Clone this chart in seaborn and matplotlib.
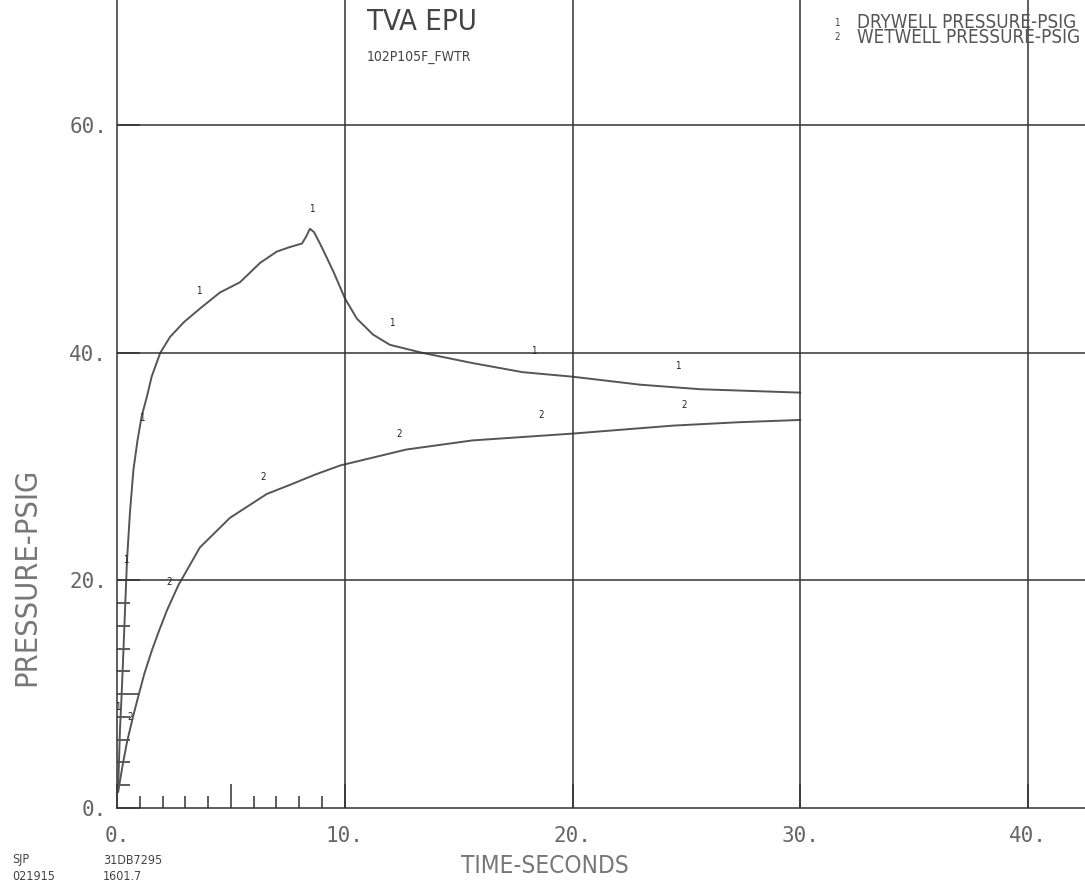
import pandas as pd
import seaborn as sns
import matplotlib.pyplot as plt

# drywell pressure (curve 1)
dw_time = [0.05, 0.13, 0.2, 0.26, 0.35, 0.44, 0.57, 0.72, 0.9, 1.08, 1.32, 1.52, 1.9,
           2.33, 2.94, 3.65, 4.52, 5.4, 6.28, 7.02, 7.6, 8.12, 8.3, 8.47, 8.65, 8.91,
           9.2, 9.53, 10.0, 10.53, 11.24, 11.98, 13.4, 15.6, 17.8, 20.0, 22.96, 25.6, 30.0]
dw_psig = [1.6, 6.9, 9.8, 12.7, 17.3, 21.8, 26.0, 29.7, 32.3, 34.4, 36.2, 37.9, 40.0,
           41.4, 42.7, 43.9, 45.3, 46.2, 47.9, 48.9, 49.3, 49.6, 50.2, 50.9, 50.6, 49.6,
           48.4, 47.0, 44.8, 43.0, 41.6, 40.7, 40.0, 39.1, 38.3, 37.9, 37.2, 36.8, 36.5]

# wetwell pressure (curve 2)
ww_time = [0.05, 0.25, 0.44, 0.7, 0.92, 1.2, 1.54, 1.85, 2.2, 2.7, 3.64, 4.96, 6.58,
           7.6, 8.7, 9.8, 12.7, 15.6, 20.0, 24.4, 27.3, 30.0]
ww_psig = [1.4, 3.8, 5.8, 8.0, 9.7, 11.8, 13.9, 15.6, 17.4, 19.6, 22.9, 25.5, 27.6,
           28.4, 29.3, 30.1, 31.5, 32.3, 32.9, 33.6, 33.9, 34.1]

# curve id symbols written along the curves
dw_sym_t = [0.04, 0.39, 1.1, 3.6, 8.55, 12.06, 18.3, 24.6]
dw_sym_p = [8.9, 21.8, 34.3, 45.4, 52.6, 42.6, 40.2, 38.8]
ww_sym_t = [0.57, 2.3, 6.4, 12.4, 18.6, 24.9]
ww_sym_p = [8.0, 19.9, 29.1, 32.9, 34.5, 35.4]

x_major = [0, 5, 10, 20, 30, 40]
x_labels = ["0.", "", "10.", "20.", "30.", "40."]
x_minor = [1, 2, 3, 4, 6, 7, 8, 9]
y_major = [0, 10, 20, 40, 60]
y_labels = ["0.", "", "20.", "40.", "60."]
y_minor = [2, 4, 6, 8, 12, 14, 16, 18]
x_grid = [10, 20, 30, 40]
y_grid = [20, 40, 60]

legend_items = ["DRYWELL PRESSURE-PSIG", "WETWELL PRESSURE-PSIG"]

sns.set_style("white")
plt.rcParams["font.family"] = ["DejaVu Sans"]
plt.rcParams["font.stretch"] = "condensed"

LINE = "#333333"
CURVE = "#555555"
TXT = "#666666"

fig = plt.figure(figsize=(10.85, 8.9), dpi=100)
ax = fig.add_axes([117 / 1085, 82 / 890, 1 - 117 / 1085, 808 / 890])

dw = pd.DataFrame({"t": dw_time, "p": dw_psig})
ww = pd.DataFrame({"t": ww_time, "p": ww_psig})
sns.lineplot(data=dw, x="t", y="p", ax=ax, color=CURVE, lw=1.4, estimator=None)
sns.lineplot(data=ww, x="t", y="p", ax=ax, color=CURVE, lw=1.4, estimator=None)

for t, p in zip(dw_sym_t, dw_sym_p):
    ax.text(t, p, "1", fontsize=7, color="#222222", ha="center", va="center")
for t, p in zip(ww_sym_t, ww_sym_p):
    ax.text(t, p, "2", fontsize=7, color="#222222", ha="center", va="center")

for g in x_grid:
    ax.axvline(g, color=LINE, lw=1.1)
for g in y_grid:
    ax.axhline(g, color=LINE, lw=1.1)

ax.set_xlim(0, (1085 - 117) / 22.78)
ax.set_ylim(0, 808 / 11.38)

sns.despine(ax=ax, top=True, right=True)
for s in ["left", "bottom"]:
    ax.spines[s].set_color(LINE)
    ax.spines[s].set_linewidth(1.1)

ax.set_xticks(x_major)
ax.set_xticklabels(x_labels)
ax.set_xticks(x_minor, minor=True)
ax.set_yticks(y_major)
ax.set_yticklabels(y_labels)
ax.set_yticks(y_minor, minor=True)
ax.tick_params(axis="both", which="both", bottom=True, left=True)
ax.tick_params(axis="x", which="major", direction="in", length=17, width=1.1,
               color=LINE, pad=13, labelsize=15, labelcolor=TXT)
ax.tick_params(axis="x", which="minor", direction="in", length=8.6, width=1.1, color=LINE)
ax.tick_params(axis="y", which="major", direction="in", length=16.5, width=1.1,
               color=LINE, pad=7, labelsize=15, labelcolor=TXT)
ax.tick_params(axis="y", which="minor", direction="in", length=9.4, width=1.1, color=LINE)
for lab in ax.get_xticklabels() + ax.get_yticklabels():
    lab.set_family("DejaVu Sans Mono")

ax.set_xlabel("")
ax.set_ylabel("")

# axis titles, placed like the plotter output
fig.text(545 / 1085, 1 - 866 / 890, "TIME-SECONDS", fontsize=17.5, color="#777777",
         ha="center", va="center")
fig.text(27 / 1085, 1 - 577 / 890, "PRESSURE-PSIG", fontsize=22, color="#777777",
         ha="center", va="center", rotation=90)

# plot title block
ax.text(10.97, 808 / 11.38 - 22 / 11.38, "TVA EPU", fontsize=21, color="#444444",
        ha="left", va="center")
ax.text(10.97, 808 / 11.38 - 57 / 11.38, "102P105F_FWTR", fontsize=10, color="#444444",
        ha="left", va="center")

# legend block (two lines in one text, like the plotter's stacked labels)
leg_y = 808 / 11.38 - 30 / 11.38
ax.text(31.6, leg_y, "\n".join(str(i + 1) for i in range(len(legend_items))),
        fontsize=7, color="#444444", ha="center", va="center", linespacing=1.4)
ax.text(32.5, leg_y, "\n".join(legend_items), fontsize=13.5, color="#555555",
        ha="left", va="center", linespacing=0.72)

# run identification
fig.text(12 / 1085, 1 - 860 / 890, "SJP", fontsize=9, color="#444444", va="center")
fig.text(12 / 1085, 1 - 877 / 890, "021915", fontsize=9, color="#444444", va="center")
fig.text(103 / 1085, 1 - 860 / 890, "31DB7295", fontsize=9, color="#444444", va="center")
fig.text(103 / 1085, 1 - 877 / 890, "1601.7", fontsize=9, color="#444444", va="center")

fig.savefig("out.png", dpi=100)
plt.close(fig)
